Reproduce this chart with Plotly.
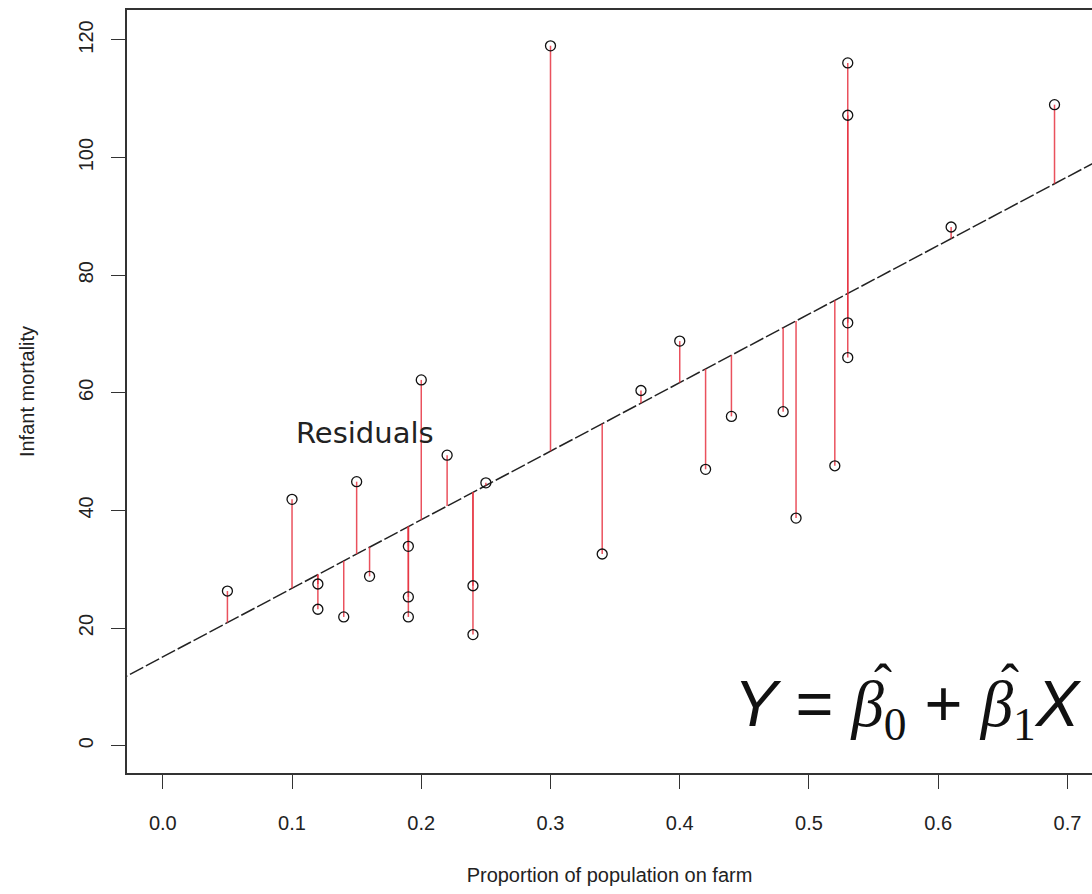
import plotly.graph_objects as go

# Data
farm_prop = [0.05, 0.10, 0.12, 0.12, 0.14, 0.15, 0.16, 0.19, 0.19, 0.19,
             0.20, 0.22, 0.24, 0.24, 0.25, 0.30, 0.34, 0.37, 0.40, 0.42,
             0.44, 0.48, 0.49, 0.52, 0.53, 0.53, 0.53, 0.53, 0.61, 0.69]
infant_mort = [26.3, 41.9, 27.5, 23.2, 21.9, 44.9, 28.8, 33.9, 25.3, 21.9,
               62.2, 49.4, 27.2, 18.9, 44.7, 119.0, 32.6, 60.4, 68.8, 47.0,
               56.0, 56.8, 38.7, 47.6, 116.1, 107.2, 71.9, 66.0, 88.2, 109.0]
intercept = 15.1
slope = 116.6

x_ticks = [0.0, 0.1, 0.2, 0.3, 0.4, 0.5, 0.6, 0.7]
x_tick_labels = ["0.0", "0.1", "0.2", "0.3", "0.4", "0.5", "0.6", "0.7"]
y_ticks = [0, 20, 40, 60, 80, 100, 120]

x_range = [-0.0277, 0.719]
y_range = [-4.64, 125.1]

fitted = [intercept + slope * x for x in farm_prop]

# residual segments
rx, ry = [], []
for x, y, f in zip(farm_prop, infant_mort, fitted):
    rx += [x, x, None]
    ry += [y, f, None]

line_x = [x_range[0] - 0.01, x_range[1] + 0.01]
line_y = [intercept + slope * x for x in line_x]

fig = go.Figure()
fig.add_trace(go.Scatter(x=line_x, y=line_y, mode="lines",
                         line=dict(color="#222222", width=1.5, dash="15px,3px"),
                         hoverinfo="skip", showlegend=False))
fig.add_trace(go.Scatter(x=rx, y=ry, mode="lines",
                         line=dict(color="rgba(230,50,65,0.85)", width=1.5),
                         hoverinfo="skip", showlegend=False))
fig.add_trace(go.Scatter(x=farm_prop, y=infant_mort, mode="markers",
                         marker=dict(symbol="circle-open", size=10, color="#111111",
                                     line=dict(width=1.3, color="#111111")),
                         showlegend=False))

fig.add_annotation(x=0.1566, y=53.1, xref="x", yref="y", text="Residuals",
                   showarrow=False, font=dict(family="DejaVu Sans", size=29, color="#222222"))

serif = "font-family:Liberation Serif"
formula = ("<i>Y</i> = "
           f"<span style='{serif}'><i>\u03b2</i><sub>0</sub></span>"
           " + "
           f"<span style='{serif}'><i>\u03b2</i><sub>1</sub></span>"
           "<i>X</i>")
fig.add_annotation(x=0.7127, y=6.4, xref="x", yref="y", text=formula,
                   showarrow=False, xanchor="right", yanchor="middle",
                   font=dict(family="Liberation Sans", size=65, color="#111111"))
# hats over the two betas
for hx in [0.5572, 0.6557]:
    fig.add_annotation(x=hx, y=10.5, xref="x", yref="y", text="\u02c6",
                       showarrow=False, xanchor="center", yanchor="middle",
                       font=dict(family="Liberation Serif", size=54, color="#111111"))

fig.update_layout(
    width=1092, height=894,
    margin=dict(l=127, r=0, t=10, b=121),
    paper_bgcolor="white", plot_bgcolor="white",
    font=dict(family="Liberation Sans", size=20, color="#222222"),
    xaxis=dict(range=x_range, tickvals=x_ticks, ticktext=x_tick_labels,
               showgrid=False, zeroline=False, showline=True, mirror=True,
               linecolor="#333333", linewidth=1.6, ticks="outside", ticklen=14,
               tickwidth=1.3, tickcolor="#333333", ticklabelstandoff=17,
               title=dict(text="Proportion of population on farm",
                          font=dict(size=20), standoff=35)),
    yaxis=dict(range=y_range, tickvals=y_ticks, tickangle=-90,
               showgrid=False, zeroline=False, showline=True, mirror=False,
               linecolor="#333333", linewidth=1.6, ticks="outside", ticklen=14,
               tickwidth=1.3, tickcolor="#333333", ticklabelstandoff=10,
               title=dict(text="Infant mortality", font=dict(size=20), standoff=35)),
)

fig.write_html("out.html")
